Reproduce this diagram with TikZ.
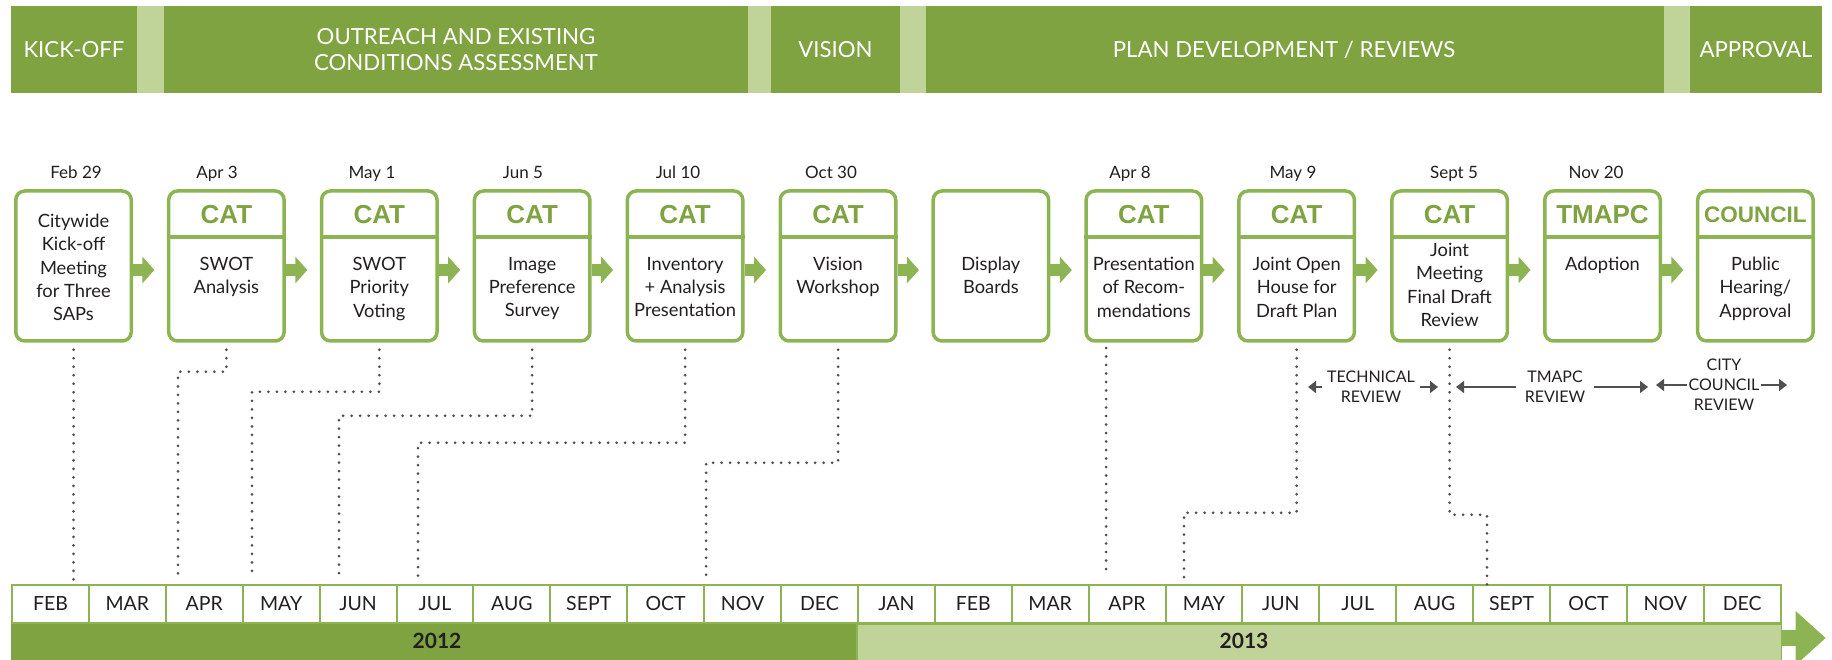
\documentclass[tikz,border=0pt]{standalone}
\usepackage{fontspec}
\setmainfont{Lato}
\newfontfamily\headfont{Liberation Sans}
\usetikzlibrary{arrows.meta,positioning}

\definecolor{bargreen}{RGB}{126,163,64}
\definecolor{palegreen}{RGB}{192,211,153}
\definecolor{boxgreen}{RGB}{141,180,82}
\definecolor{dotgray}{RGB}{80,80,82}
\definecolor{inkgray}{RGB}{35,31,32}

\tikzset{
    phase/.style={
        fill=bargreen,text=white,
        minimum height=87pt,inner sep=0pt,align=center,
        font=\fontsize{22.2}{26}\selectfont
    },
    stage/.style={
        draw=boxgreen,line width=3.5pt,rounded corners=9pt,fill=white,
        minimum width=115.5pt,minimum height=150pt,inner sep=0pt
    },
    stage text/.style={
        text=inkgray,inner sep=0pt,align=center,anchor=north,
        font=\fontsize{18.3}{23.3}\selectfont
    },
    date label/.style={
        text=inkgray,inner sep=0pt,anchor=base,
        font=\fontsize{17}{20}\selectfont
    },
    flow arrow/.style={
        draw=boxgreen,line width=12pt,
        -{Triangle[length=12pt,width=26pt]},shorten >=12.5pt
    },
    date line/.style={
        draw=dotgray,line width=3pt,line cap=round,
        dash pattern=on 0pt off 8.5pt
    },
    review/.style={
        text=inkgray,inner sep=0pt,align=center,
        font=\fontsize{16}{20}\selectfont
    },
    review arrow/.style={
        draw=dotgray,line width=1.6pt,
        -{Triangle[length=8pt,width=12pt]}
    },
    month cell/.style={
        draw=boxgreen,line width=2pt,fill=white,
        minimum width=76.9pt,minimum height=38pt,inner sep=0pt,
        text=inkgray,font=\fontsize{19.5}{22}\selectfont
    },
    year label/.style={
        text=inkgray,inner sep=0pt,
        font=\bfseries\fontsize{21}{24}\selectfont
    }
}

\begin{document}
\begin{tikzpicture}[x=1pt,y=-1pt]
    \useasboundingbox (0,0) rectangle (1832,660);
    % phases
    \fill[palegreen] (11,6) rectangle (1822,93);
    \foreach \name/\cx/\w/\txt in {kickoff/74/126/KICK-OFF,
        outreach/456/584/{OUTREACH AND EXISTING\\CONDITIONS ASSESSMENT},
        vision/835.5/129/VISION,
        plandev/1295/738/{PLAN DEVELOPMENT / REVIEWS\hspace{22pt}},
        approval/1756/132/APPROVAL}
        \node[phase,minimum width=\w pt] (\name) at (\cx,49.5) {\txt};

    % stage boxes
    \foreach \i/\ty/\body in {1/214/{Citywide\\Kick-off\\Meeting\\for Three\\SAPs},
        2/257/{SWOT\\Analysis},3/257/{SWOT\\Priority\\Voting},
        4/257/{Image\\Preference\\Survey},5/257/{Inventory\\+ Analysis\\Presentation},
        6/257/{Vision\\Workshop},7/257/{Display\\Boards},
        8/257/{Presentation\\of Recom-\\mendations},9/257/{Joint Open\\House for\\Draft Plan},
        10/243/{Joint\\Meeting\\Final Draft\\Review},11/257/{Adoption},
        12/257/{Public\\Hearing/\\Approval}}
    {
        \node[stage] (b\i) at ({73.5+152.9*(\i-1)},266) {};
        \node[stage text] (t\i) at ({73.5+152.9*(\i-1)},\ty) {\body};
    }
    \foreach \i/\head/\fs in {2/CAT/26,3/CAT/26,4/CAT/26,5/CAT/26,6/CAT/26,
        8/CAT/26,9/CAT/26,10/CAT/26,11/TMAPC/26,12/COUNCIL/22.5}
    {
        \draw[boxgreen,line width=3.5pt] ([yshift=29pt]b\i.west) -- ([yshift=29pt]b\i.east);
        \node[text=bargreen,inner sep=0pt,font=\headfont\bfseries\fontsize{\fs}{\fs}\selectfont]
            (h\i) at ([yshift=51pt]b\i.center) {\head};
    }
    \foreach \i [evaluate=\i as \j using int(\i+1)] in {1,...,11}
        \draw[flow arrow] ([yshift=-4pt]b\i.east) -- ([yshift=-4pt]b\j.west);

    % dates
    \foreach \i/\x/\when in {1/76/Feb 29,2/217/Apr 3,3/372/May 1,4/523/Jun 5,
        5/678/Jul 10,6/831/Oct 30,8/1130/Apr 8,9/1293/May 9,10/1454/Sept 5,11/1596/Nov 20}
        \node[date label] (d\i) at (\x,179) {\when};

    % months
    \foreach \m [count=\k] in {FEB,MAR,APR,MAY,JUN,JUL,AUG,SEPT,OCT,NOV,DEC,
        JAN,FEB,MAR,APR,MAY,JUN,JUL,AUG,SEPT,OCT,NOV,DEC}
        \node[month cell] (m\k) at ({12+76.9*(\k-0.5)},604) {\m};
    \fill[bargreen] (m1.south west) rectangle ([yshift=-37pt]m11.south east);
    \draw[boxgreen,line width=1.5pt,fill=palegreen] (m12.south west) rectangle ([yshift=-37pt]m23.south east);
    \draw[boxgreen,line width=16pt,-{Triangle[length=30pt,width=52pt]}]
        ([yshift=-14pt]m23.south east) -- ++(44,0);
    \node[year label] (y2012) at (437,641) {2012};
    \node[year label] (y2013) at (1244,641) {2013};

    % date lines
    \coordinate (e1) at (73.5,582);
    \coordinate (e2) at (178,579);
    \coordinate (e3) at (252,579);
    \coordinate (e4) at (339,579);
    \coordinate (e5) at (418,579);
    \coordinate (e6) at (706,579);
    \coordinate (s8) at (1106,348);
    \coordinate (e8) at (1106,571);
    \coordinate (e9) at (1184,579);
    \coordinate (e10) at (1487,586);
    \draw[date line] ([yshift=-7pt]b1.south) -- (e1);
    \draw[date line] (s8) -- (e8);
    \foreach \i/\dy in {2/22,3/42,4/66,5/93,6/113,9/163,10/165}
        \draw[date line] ([yshift=-7pt]b\i.south) -- ++(0,\dy) -| (e\i);

    % reviews
    \node[review] (techrev) at (1371,387) {TECHNICAL\\REVIEW};
    \node[review] (tmapcrev) at (1555,387) {TMAPC\\REVIEW};
    \node[review] (cityrev) at (1724,385) {CITY\\COUNCIL\\REVIEW};
    \coordinate (tech l) at (1308,387);
    \coordinate (tech r) at (1438,387);
    \coordinate (tmapc l) at (1456,387);
    \coordinate (tmapc r) at (1648,387);
    \coordinate (city l) at (1656,385);
    \coordinate (city r) at (1787,385);
    \draw[review arrow] ([xshift=-5pt]techrev.west) -- (tech l);
    \draw[review arrow] ([xshift=5pt]techrev.east) -- (tech r);
    \draw[review arrow] ([xshift=-9pt]tmapcrev.west) -- (tmapc l);
    \draw[review arrow] ([xshift=9pt]tmapcrev.east) -- (tmapc r);
    \draw[review arrow] ([xshift=-1pt]cityrev.west) -- (city l);
    \draw[review arrow] ([xshift=1pt]cityrev.east) -- (city r);
\end{tikzpicture}
\end{document}
